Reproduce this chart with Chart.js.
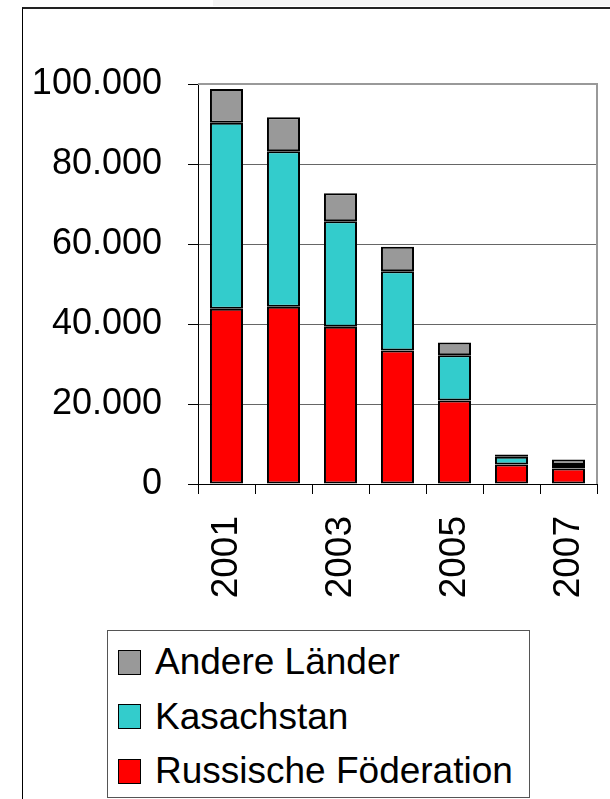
<!DOCTYPE html>
<html>
<head>
<meta charset="utf-8">
<script src="https://cdn.jsdelivr.net/npm/chart.js@4"></script>
<style>
  html, body { margin: 0; padding: 0; background: #fff; }
  #wrap { position: relative; width: 610px; height: 799px; overflow: hidden; font-family: "Liberation Sans", Arial, sans-serif; }
  #band { position: absolute; left: 213px; top: 0; width: 397px; height: 6px; background: #f4f4f4; }
  #frame { position: absolute; left: 22px; top: 7px; width: 600px; height: 800px; border-left: 1px solid #000; border-top: 2px solid #222; }
  #chartbox { position: absolute; left: 0; top: 0; width: 610px; height: 799px; }
  #legend { position: absolute; left: 107px; top: 630px; width: 423px; height: 168px; border: 1px solid #555; box-sizing: border-box; background: #fff; }
  .row { position: absolute; left: 10px; height: 40px; display: flex; align-items: center; font-size: 37px; color: #000; white-space: nowrap; }
  .sw { width: 21px; height: 23px; border: 1px solid #000; margin-right: 14px; flex: none; }
</style>
</head>
<body>
<div id="wrap">
  <div id="band"></div>
  <div id="frame"></div>
  <div id="chartbox"><canvas id="c"></canvas></div>
  <div id="legend"></div>
</div>
<script>
const years = ['2001', '2002', '2003', '2004', '2005', '2006', '2007'];
const russischeFoederation = [43800, 44300, 39300, 33400, 20900, 4900, 3900];
const kasachstan = [46500, 38900, 26400, 19800, 11300, 1900, 850];
const andereLaender = [8450, 8500, 7000, 6100, 3200, 600, 1350];
const yTicks = [0, 20000, 40000, 60000, 80000, 100000];

const seriesNames = ['Russische Föderation', 'Kasachstan', 'Andere Länder'];
const seriesColors = ['#ff0000', '#33cccc', '#999999'];
const seriesData = [russischeFoederation, kasachstan, andereLaender];

function fmt(v) {
  return String(Math.round(v)).replace(/\B(?=(\d{3})+(?!\d))/g, '.');
}

const framePlugin = {
  id: 'framePlugin',
  beforeDatasetsDraw(chart) {
    const a = chart.chartArea;
    const ctx = chart.ctx;
    ctx.save();
    ctx.strokeStyle = '#999999';
    ctx.lineWidth = 2;
    ctx.beginPath();
    ctx.moveTo(a.left, a.top);
    ctx.lineTo(a.right, a.top);
    ctx.lineTo(a.right, a.bottom);
    ctx.stroke();
    ctx.restore();
  }
};

const chart = new Chart(document.getElementById('c'), {
  type: 'bar',
  data: {
    labels: years,
    datasets: seriesNames.map((n, i) => ({
      label: n,
      data: seriesData[i],
      backgroundColor: seriesColors[i],
      borderColor: '#000',
      borderWidth: 2,
      borderSkipped: false,
      categoryPercentage: 1,
      barPercentage: 0.58
    }))
  },
  options: {
    responsive: true,
    maintainAspectRatio: false,
    animation: false,
    layout: { padding: { left: 0, top: 84, right: 13, bottom: 0 } },
    plugins: { legend: { display: false }, tooltip: { enabled: false } },
    scales: {
      x: {
        stacked: true,
        afterFit(s) { s.height = 315; s.paddingLeft = 0; s.paddingRight = 0; },
        grid: { display: true, drawOnChartArea: false, offset: true, tickLength: 10, tickColor: '#000', tickWidth: 1 },
        border: { color: '#000', width: 1 },
        ticks: {
          autoSkip: false,
          minRotation: 90,
          maxRotation: 90,
          padding: 22,
          color: '#000',
          font: { family: '"Liberation Sans", Arial, sans-serif', size: 37 },
          callback(v, i) { return i % 2 === 0 ? years[i] : ''; }
        }
      },
      y: {
        stacked: true,
        min: 0,
        max: 100000,
        afterFit(s) { s.width = 198; s.paddingTop = 0; s.paddingBottom = 0; },
        afterBuildTicks(s) { s.ticks = yTicks.map(v => ({ value: v })); },
        grid: { color: '#666666', lineWidth: 1, tickLength: 10, tickColor: '#000' },
        border: { color: '#000', width: 1 },
        ticks: {
          padding: 26,
          color: '#000',
          font: { family: '"Liberation Sans", Arial, sans-serif', size: 36 },
          callback(v) { return fmt(v); }
        }
      }
    }
  },
  plugins: [framePlugin]
});

// legend (top-to-bottom in reverse of stacking order)
const legend = document.getElementById('legend');
[2, 1, 0].forEach((idx, r) => {
  const row = document.createElement('div');
  row.className = 'row';
  row.style.top = (11 + 54.5 * r) + 'px';
  const sw = document.createElement('div');
  sw.className = 'sw';
  sw.style.background = seriesColors[idx];
  const t = document.createElement('span');
  t.textContent = seriesNames[idx];
  row.appendChild(sw);
  row.appendChild(t);
  legend.appendChild(row);
});
</script>
</body>
</html>
